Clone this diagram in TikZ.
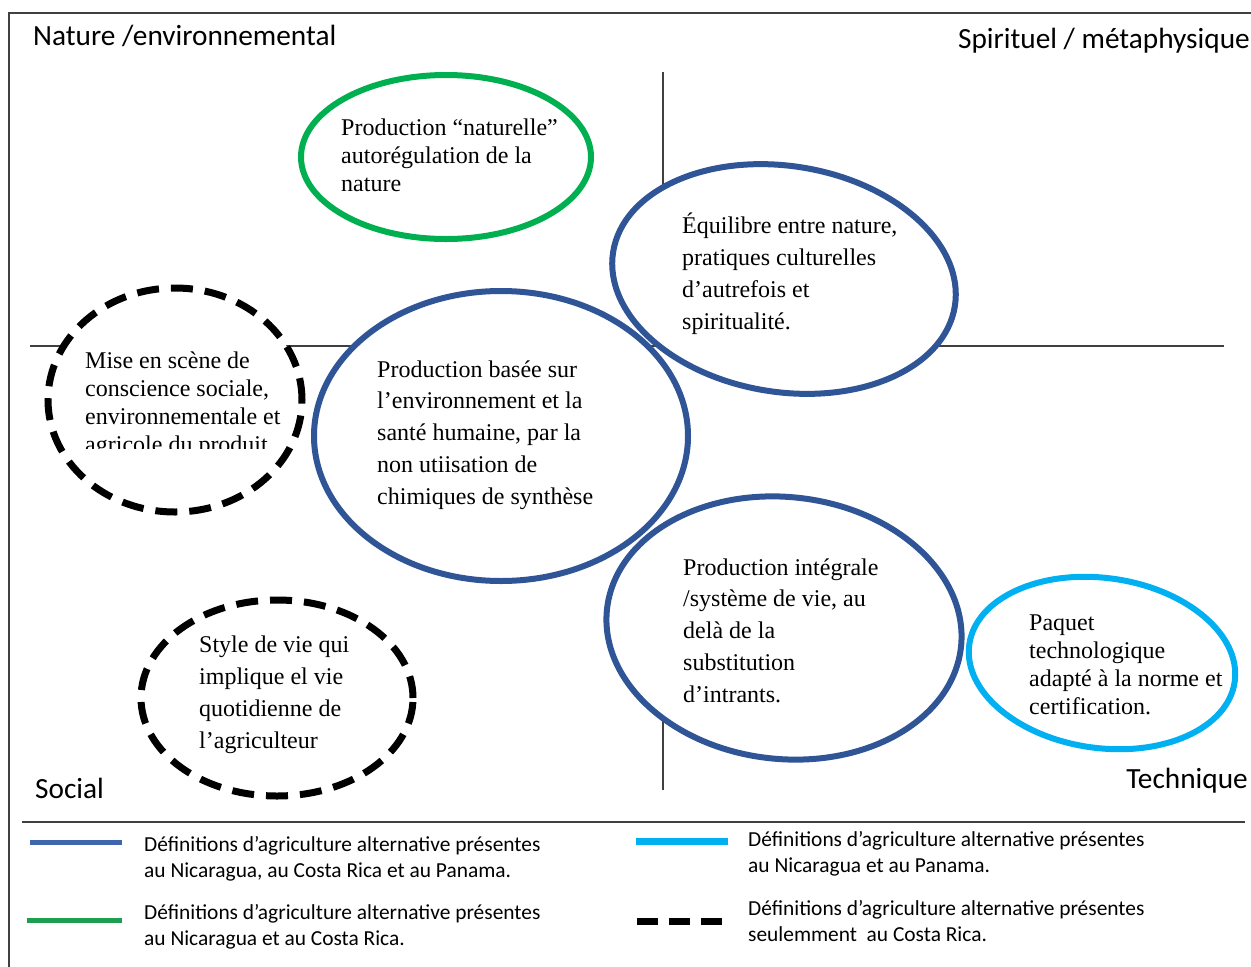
\documentclass[tikz,border=0pt]{standalone}
\usepackage{fontspec}
\setmainfont{Liberation Serif}
\newfontfamily\lblfont{Carlito}
\definecolor{eblue}{HTML}{2F5597}
\definecolor{egreen}{HTML}{00B050}
\definecolor{ecyan}{HTML}{00B0F0}
\definecolor{axgray}{HTML}{404040}
\definecolor{legblue}{HTML}{3F65AD}
\definecolor{leggreen}{HTML}{1E9E50}
\begin{document}
\begin{tikzpicture}[x=1pt,y=-1pt,
  ax/.style={draw=axgray,line width=1.2pt},
  solidell/.style={line width=6pt},
  dashell/.style={line width=7pt,dash pattern=on 22pt off 12pt},
  etxt/.style={anchor=base west,inner sep=0pt,align=left},
  bigtxt/.style={font=\fontsize{24}{31.7}\selectfont},
  smalltxt/.style={font=\fontsize{24}{28}\selectfont},
  lbl/.style={inner sep=0pt,font=\lblfont\fontsize{29.3}{34}\selectfont},
  leg/.style={anchor=base west,inner sep=0pt,align=left,font=\lblfont\fontsize{21.4}{26}\selectfont}]
\useasboundingbox (0,0) rectangle (1251,967);
\fill[white] (0,0) rectangle (1251,967);

% frame and axes
\draw[ax] (9,967) -- (9,13) -- (1251,13);
\draw[ax] (30,346) -- (1224,346);
\draw[ax] (663,72) -- (663,260);
\draw[ax] (663,640) -- (663,790);
\draw[ax] (22,822) -- (1245,822);

% ellipse fills
\fill[white] (446,157) ellipse [x radius=145pt,y radius=82pt];
\fill[white] (501,436) ellipse [x radius=187pt,y radius=145pt];
\fill[white,rotate around={-9:(784,279)}] (784,279) ellipse [x radius=173pt,y radius=113pt];
\fill[white,rotate around={-6:(784,628)}] (784,628) ellipse [x radius=178pt,y radius=131pt];
\fill[white,rotate around={-8:(1102,663)}] (1102,663) ellipse [x radius=134pt,y radius=85pt];
\fill[white] (175,400) ellipse [x radius=127pt,y radius=112pt];
\fill[white] (277,698) ellipse [x radius=136pt,y radius=98pt];

% ellipse strokes
\draw[egreen,solidell] (446,157) ellipse [x radius=145pt,y radius=82pt];
\draw[eblue,solidell] (501,436) ellipse [x radius=187pt,y radius=145pt];
\draw[eblue,solidell,rotate around={-9:(784,279)}] (784,279) ellipse [x radius=173pt,y radius=113pt];
\draw[eblue,solidell,rotate around={-6:(784,628)}] (784,628) ellipse [x radius=178pt,y radius=131pt];
\draw[ecyan,solidell,rotate around={-8:(1102,663)}] (1102,663) ellipse [x radius=134pt,y radius=85pt];
\draw[black,dashell] (175,400) ellipse [x radius=127pt,y radius=112pt];
\draw[black,dashell] (277,698) ellipse [x radius=136pt,y radius=98pt];

% texts (base anchor = baseline of last line)
\node[etxt,smalltxt] (tgreen) at (341,191) {Production “naturelle”\\autorégulation de la\\nature};
\begin{scope}
\clip (60,330) rectangle (300,448);
\node[etxt,smalltxt] (tmise) at (85,452) {Mise en scène de\\conscience sociale,\\environnementale et\\agricole du produit};
\end{scope}
\node[etxt,bigtxt] (tcentral) at (377,504) {Production basée sur\\l’environnement et la\\santé humaine, par la\\non utiisation de\\chimiques de synthèse};
\node[etxt,bigtxt] (tequi) at (682,329) {Équilibre entre nature,\\pratiques culturelles\\d’autrefois et\\spiritualité.};
\node[etxt,bigtxt] (tinteg) at (683,702) {Production intégrale\\/système de vie, au\\delà de la\\substitution\\d’intrants.};
\node[etxt,smalltxt] (tpaquet) at (1029,714) {Paquet\\technologique\\adapté à la norme et\\certification.};
\node[etxt,bigtxt] (tstyle) at (199,748) {Style de vie qui\\implique el vie\\quotidienne de\\l’agriculteur};

% quadrant labels
\node[lbl,anchor=base west] (lnat) at (33,45) {Nature /environnemental};
\node[lbl,anchor=base east] (lspi) at (1250,48) {Spirituel / métaphysique};
\node[lbl,anchor=base west] (lsoc) at (35,798) {Social};
\node[lbl,anchor=base east] (ltec) at (1248,788) {Technique};

% legend
\draw[legblue,line width=5pt] (30,842) -- (122,842);
\draw[leggreen,line width=5pt] (27,920) -- (122,920);
\draw[ecyan,line width=7pt] (636,841) -- (728,841);
\draw[black,line width=7pt,dash pattern=on 21pt off 11pt] (637,921) -- (726,921);
\node[leg] (leg1) at (144,877) {Définitions d’agriculture alternative présentes\\au Nicaragua, au Costa Rica et au Panama.};
\node[leg] (leg2) at (144,945) {Définitions d’agriculture alternative présentes\\au Nicaragua et au Costa Rica.};
\node[leg] (leg3) at (748,872) {Définitions d’agriculture alternative présentes\\au Nicaragua et au Panama.};
\node[leg] (leg4) at (748,941) {Définitions d’agriculture alternative présentes\\seulemment\ \ au Costa Rica.};
\end{tikzpicture}
\end{document}
